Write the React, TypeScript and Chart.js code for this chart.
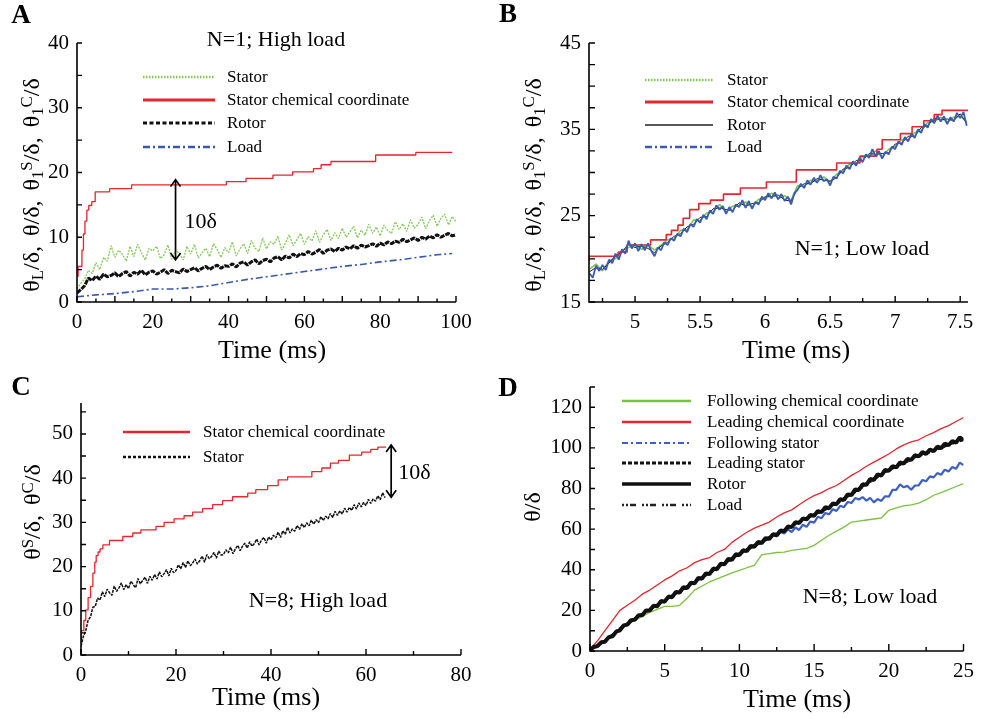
import React, { useEffect, useRef } from "react";
import { Chart, registerables } from "chart.js";
Chart.register(...registerables);

const SERIF = '"Liberation Serif", "Times New Roman", Times, serif';

// ---------------- Panel A : N=1, high load ----------------
const aTime = [0,1,2,3,4,5,6,7,8,9,10,11,12,13,14,15,16,17,18,19,20,21,22,23,24,25,26,27,28,29,30,31,32,33,34,35,36,37,38,39,40,41,42,43,44,45,46,47,48,49,50,51,52,53,54,55,56,57,58,59,60,61,62,63,64,65,66,67,68,69,70,71,72,73,74,75,76,77,78,79,80,81,82,83,84,85,86,87,88,89,90,91,92,93,94,95,96,97,98,99,100];
const aStator = [
  2.0,2.9,3.5,4.9,4.4,6.1,5.0,6.9,6.3,8.7,
  6.9,8.0,7.4,6.3,8.6,7.0,8.9,7.6,6.5,8.3,
  7.9,8.6,6.7,7.3,8.8,6.6,8.0,7.5,6.5,8.6,
  7.4,8.9,6.8,7.6,8.3,7.0,9.0,8.1,6.9,8.4,
  7.6,9.3,7.1,8.2,9.0,7.5,9.5,8.3,7.8,9.9,
  8.2,9.3,8.9,10.2,8.0,9.1,10.4,8.7,9.6,10.6,
  8.9,10.1,9.4,11.0,9.2,10.4,11.2,9.5,10.7,9.8,
  11.4,10.0,10.8,11.7,9.9,11.1,10.3,12.0,10.6,11.6,
  10.2,11.9,11.0,10.6,12.4,11.2,12.1,10.9,12.7,11.4,
  12.0,13.1,11.3,12.6,13.4,11.7,12.9,13.6,11.9,13.2,
  12.4];
const aRotor = [
  1.4,1.9,2.5,3.7,3.3,4.0,3.5,4.3,3.9,4.1,
  4.5,3.9,4.4,4.7,4.0,4.6,4.3,4.9,4.2,4.6,
  4.8,4.3,4.6,5.0,4.4,4.9,4.7,4.5,5.1,4.7,
  5.0,5.3,4.8,5.2,5.5,5.0,5.4,5.7,5.2,5.6,
  5.5,5.9,5.4,6.0,6.2,5.7,6.2,6.5,5.9,6.4,
  6.6,6.2,6.8,7.0,6.5,7.1,6.8,7.4,7.0,7.5,
  7.3,7.8,7.4,7.7,8.1,7.5,8.0,8.2,7.8,8.3,
  8.0,8.5,8.2,8.7,8.3,8.8,8.5,8.7,9.0,8.6,
  9.1,8.8,9.3,9.0,9.4,9.2,9.7,9.3,9.6,9.9,
  9.5,10.0,9.7,10.2,9.9,10.4,10.0,10.3,10.6,10.2,
  10.4];
const aLoadTime = [0,5,10,15,20,25,30,35,40,45,50,55,60,65,70,75,80,85,90,95,99];
const aLoad = [0.8,1.1,1.3,1.6,2.0,2.0,2.2,2.5,3.0,3.5,3.9,4.3,4.7,5.1,5.5,5.8,6.2,6.5,6.9,7.3,7.5];
const aChemTime = [0.3,1.3,1.7,2.1,2.6,3.1,3.9,4.8,8.6,14.4,39.4,44.6,51.7,56.9,62.4,64.4,67.0,78.8,89.4,96.4,99.0];
const aChem = [3.9,5.5,8.0,10.5,12.5,14.2,14.9,15.5,17.0,17.5,18.1,18.6,19.1,19.6,20.1,20.6,21.2,21.7,22.7,23.1,23.1];
const aXLabels = [0,20,40,60,80,100];
const aXMajor = [0,10,20,30,40,50,60,70,80,90,100];
const aXMinor = [5,15,25,35,45,55,65,75,85,95];
const aYLabels = [0,10,20,30,40];
const aYTicks = [0,5,10,15,20,25,30,35,40];

// ---------------- Panel B : N=1, low load ----------------
const bTimeFine = [4.65,4.675,4.7,4.725,4.75,4.775,4.8,4.825,4.85,4.875,4.9,4.925,4.95,4.975,5,5.025,5.05,5.075,5.1,5.125,5.15,5.175,5.2,5.225,5.25,5.275,5.3,5.325,5.35,5.375,5.4,5.425,5.45,5.475,5.5,5.525,5.55,5.575,5.6,5.625,5.65,5.675,5.7,5.725,5.75,5.775,5.8,5.825,5.85,5.875,5.9,5.925,5.95,5.975,6,6.025,6.05,6.075,6.1,6.125,6.15,6.175,6.2,6.225,6.25,6.275,6.3,6.325,6.35,6.375,6.4,6.425,6.45,6.475,6.5,6.525,6.55,6.575,6.6,6.625,6.65,6.675,6.7,6.725,6.75,6.775,6.8,6.825,6.85,6.875,6.9,6.925,6.95,6.975,7,7.025,7.05,7.075,7.1,7.125,7.15,7.175,7.2,7.225,7.25,7.275,7.3,7.325,7.35,7.375,7.4,7.425,7.45,7.475,7.5,7.525,7.55];
const bLoad = [
  18.3,17.8,19.2,18.6,19.3,18.7,19.9,19.5,20.6,19.9,
  21.1,20.6,22.1,21.2,21.8,20.9,21.7,21.0,21.8,20.9,
  20.3,21.3,21.0,21.9,21.6,22.4,22.1,22.9,22.6,23.5,
  23.1,24.0,23.7,24.6,24.2,25.1,24.6,25.6,25.2,26.2,
  25.7,26.1,25.2,26.0,25.4,26.3,26.0,26.8,25.9,26.7,
  25.8,26.6,26.3,27.2,26.8,27.6,27.0,27.7,26.9,27.5,
  26.7,27.2,26.3,27.6,28.0,28.7,28.2,29.1,28.6,29.4,
  28.8,29.7,29.0,29.2,28.5,29.5,29.3,30.2,29.9,30.8,
  30.4,31.3,30.8,31.7,31.2,32.1,31.7,32.7,31.9,32.5,
  31.6,32.4,32.1,33.0,32.7,33.6,33.2,34.1,33.6,34.5,
  34.0,35.0,34.6,35.6,35.2,36.2,35.7,36.6,35.9,36.5,
  35.6,36.4,35.9,36.9,36.3,37.0,35.4];
const bTime = [4.65,4.7,4.75,4.8,4.85,4.9,4.95,5,5.05,5.1,5.15,5.2,5.25,5.3,5.35,5.4,5.45,5.5,5.55,5.6,5.65,5.7,5.75,5.8,5.85,5.9,5.95,6,6.05,6.1,6.15,6.2,6.25,6.3,6.35,6.4,6.45,6.5,6.55,6.6,6.65,6.7,6.75,6.8,6.85,6.9,6.95,7,7.05,7.1,7.15,7.2,7.25,7.3,7.35,7.4,7.45,7.5,7.55];
const bStator = [
  18.8,19.4,18.6,19.8,20.0,21.0,21.3,21.7,21.1,21.6,
  21.0,21.6,22.2,22.3,23.3,23.4,24.5,24.4,25.3,25.4,
  26.3,25.4,26.1,26.2,26.6,26.0,26.9,27.0,27.6,27.0,
  27.3,26.8,28.5,28.4,29.1,28.9,29.5,28.9,29.8,30.1,
  31.0,31.0,31.8,31.9,32.5,31.8,32.7,33.0,33.8,33.8,
  34.6,34.8,35.8,35.9,36.4,35.8,36.4,36.5,35.9];
const bRotor = [
  18.5,19.0,18.8,19.5,20.4,20.7,21.8,21.3,21.5,21.2,
  20.7,21.5,21.9,22.6,22.9,23.7,24.0,24.8,24.9,25.8,
  25.9,25.7,25.6,26.5,26.1,26.4,26.5,27.2,27.2,27.4,
  26.8,26.7,28.1,28.7,28.7,29.3,29.1,29.0,29.4,30.4,
  30.6,31.4,31.4,32.2,32.1,32.2,32.3,33.3,33.4,34.2,
  34.2,35.2,35.4,36.3,36.1,36.2,36.0,36.8,35.7];
const bChemTime = [4.646,4.87,4.94,5.12,5.24,5.28,5.33,5.37,5.42,5.49,5.58,5.68,5.81,6.01,6.24,6.55,6.73,6.86,6.9,7.04,7.13,7.22,7.3,7.36,7.38,7.56];
const bChem = [19.7,20.3,20.8,21.6,22.2,22.8,23.3,23.9,24.7,25.7,26.4,26.8,27.5,28.2,28.9,30.3,31.1,31.9,32.7,33.8,34.5,35.3,36.0,36.7,37.2,37.2];
const bXLabels = [5,5.5,6,6.5,7,7.5];
const bXMajor = [5,5.5,6,6.5,7,7.5];
const bXMinor = [4.75,5.25,5.75,6.25,6.75,7.25];
const bYLabels = [15,25,35,45];
const bYTicks = [15,17.5,20,22.5,25,27.5,30,32.5,35,37.5,40,42.5,45];

// ---------------- Panel C : N=8, high load ----------------
const cTime = [0,0.5,1,1.5,2,2.5,3,3.5,4,4.5,5,5.5,6,6.5,7,7.5,8,8.5,9,9.5,10,10.5,11,11.5,12,12.5,13,13.5,14,14.5,15,15.5,16,16.5,17,17.5,18,18.5,19,19.5,20,20.5,21,21.5,22,22.5,23,23.5,24,24.5,25,25.5,26,26.5,27,27.5,28,28.5,29,29.5,30,30.5,31,31.5,32,32.5,33,33.5,34,34.5,35,35.5,36,36.5,37,37.5,38,38.5,39,39.5,40,40.5,41,41.5,42,42.5,43,43.5,44,44.5,45,45.5,46,46.5,47,47.5,48,48.5,49,49.5,50,50.5,51,51.5,52,52.5,53,53.5,54,54.5,55,55.5,56,56.5,57,57.5,58,58.5,59,59.5,60,60.5,61,61.5,62,62.5,63,63.5,64];
const cStator = [
  2.0,4.2,5.5,7.9,8.6,10.8,11.0,12.9,12.4,14.3,
  13.2,14.9,14.1,13.5,15.6,14.4,15.2,16.3,14.8,15.9,
  15.0,16.7,15.9,15.2,17.3,16.1,16.9,17.6,16.2,17.8,
  16.9,18.2,17.2,18.8,17.7,18.4,19.3,17.9,19.6,18.6,
  19.1,20.4,19.5,20.9,19.8,21.3,20.2,20.8,21.7,20.6,
  21.3,22.4,21.0,22.7,21.8,22.3,23.2,21.9,23.5,22.6,
  22.7,23.8,23.1,24.4,22.9,24.0,24.8,23.6,24.6,25.3,
  24.2,25.6,24.6,25.2,26.2,24.9,26.0,26.6,25.3,26.7,
  26.0,27.1,26.5,27.8,26.6,28.1,27.3,28.9,27.6,28.5,
  28.0,29.3,28.4,29.7,28.8,29.9,29.2,30.5,29.6,30.6,
  29.9,31.3,30.4,31.4,30.8,32.0,31.1,32.5,31.6,32.6,
  31.9,33.2,32.3,33.4,32.7,34.0,33.0,34.4,33.5,34.5,
  33.8,35.2,34.3,35.3,34.8,36.0,35.1,36.7,35.6];
const cChemTime = [0.1,0.6,1.0,1.5,2.0,2.5,2.9,3.2,3.6,4.0,4.6,6.0,8.8,10.9,12.6,15.8,17.5,19.6,21.7,23.5,25.6,27.7,29.8,31.9,35.1,36.8,39.3,41.5,43.5,48.6,50.7,52.5,54.2,56.5,59.1,61.0,62.5,63.5,64.2];
const cChem = [3.4,5.5,7.8,10.2,13.0,15.5,18.5,21.0,22.5,23.3,24.0,24.9,25.9,26.8,27.6,28.3,29.1,30.0,30.8,31.5,32.3,33.1,34.0,34.9,35.8,36.6,37.4,38.3,39.6,40.3,41.5,42.3,43.4,44.0,45.2,45.9,46.5,47.0,47.0];
const cXLabels = [0,20,40,60,80];
const cXMajor = [0,20,40,60,80];
const cXMinor = [10,30,50,70];
const cYLabels = [0,10,20,30,40,50];
const cYTicks = [0,5,10,15,20,25,30,35,40,45,50,55];

// ---------------- Panel D : N=8, low load ----------------
const dTimeHalf = [0,0.5,1,1.5,2,2.5,3,3.5,4,4.5,5,5.5,6,6.5,7,7.5,8,8.5,9,9.5,10,10.5,11,11.5,12,12.5,13,13.5,14,14.5,15,15.5,16,16.5,17,17.5,18,18.5,19,19.5,20,20.5,21,21.5,22,22.5,23,23.5,24,24.5,25];
const dFollowChem = [
  0.5,3.0,5.5,8.0,10.5,13.0,15.0,17.0,19.0,20.5,
  22.0,22.0,22.5,26.0,30.0,32.0,34.0,35.5,37.0,38.5,
  39.7,41.0,42.2,47.5,48.0,48.5,48.7,49.5,50.0,50.5,
  52.0,54.5,57.0,59.0,61.0,63.5,64.0,64.5,65.0,65.5,
  69.3,70.5,71.5,72.0,72.8,74.5,76.7,78.0,79.5,81.0,
  82.4];
const dLeadChem = [
  1.0,5.0,10.0,15.0,20.0,22.5,25.0,28.0,30.0,32.5,
  35.0,37.0,39.5,41.0,43.5,45.0,46.0,48.5,50.0,53.5,
  56.0,58.5,60.5,62.0,63.5,66.0,68.0,69.5,72.0,74.5,
  76.5,78.0,80.0,81.5,84.0,86.5,88.5,91.0,93.0,95.0,
  97.0,99.5,101.5,103.0,104.0,106.0,107.5,109.5,111.0,113.0,
  115.0];
const dTimeQ = [0,0.25,0.5,0.75,1,1.25,1.5,1.75,2,2.25,2.5,2.75,3,3.25,3.5,3.75,4,4.25,4.5,4.75,5,5.25,5.5,5.75,6,6.25,6.5,6.75,7,7.25,7.5,7.75,8,8.25,8.5,8.75,9,9.25,9.5,9.75,10,10.25,10.5,10.75,11,11.25,11.5,11.75,12,12.25,12.5,12.75,13,13.25,13.5,13.75,14,14.25,14.5,14.75,15,15.25,15.5,15.75,16,16.25,16.5,16.75,17,17.25,17.5,17.75,18,18.25,18.5,18.75,19,19.25,19.5,19.75,20,20.25,20.5,20.75,21,21.25,21.5,21.75,22,22.25,22.5,22.75,23,23.25,23.5,23.75,24,24.25,24.5,24.75,25];
const dRotor = [
  0.5,2.0,2.4,4.3,4.6,6.8,7.2,9.5,10.2,12.6,
  13.0,15.2,15.4,17.6,17.6,20.0,19.9,22.3,22.0,24.6,
  24.3,26.8,26.5,29.1,28.8,31.4,31.0,33.6,33.3,36.0,
  35.6,38.2,37.9,40.6,40.3,43.0,42.7,45.3,44.9,47.6,
  47.3,49.6,49.2,51.7,51.3,53.7,53.2,55.6,55.2,57.5,
  57.0,59.4,59.0,61.3,61.0,63.4,63.0,65.3,64.8,67.0,
  66.6,68.9,68.4,70.8,70.3,72.7,72.3,74.8,74.4,77.1,
  76.8,79.6,79.3,82.1,81.8,84.7,84.2,87.0,86.4,89.2,
  88.7,91.0,90.4,92.8,92.3,94.6,94.1,96.4,95.8,97.9,
  97.1,99.2,98.4,100.6,99.9,102.1,101.3,103.4,102.6,105.2,
  103.8];
const dFollowStatorTime = [0,1,2,3,4,5,6,7,8,9,10,11,12,12.25,12.5,12.75,13,13.25,13.5,13.75,14,14.25,14.5,14.75,15,15.25,15.5,15.75,16,16.25,16.5,16.75,17,17.25,17.5,17.75,18,18.25,18.5,18.75,19,19.25,19.5,19.75,20,20.25,20.5,20.75,21,21.25,21.5,21.75,22,22.25,22.5,22.75,23,23.25,23.5,23.75,24,24.25,24.5,24.75,25];
const dFollowStator = [
  0.5,5.0,10.8,15.8,20.3,24.8,29.3,33.8,38.3,43.2,47.6,51.6,55.4,
  57.2,56.5,58.6,57.9,59.9,58.6,60.8,59.6,62.2,61.1,
  63.8,63.2,66.1,65.4,68.0,67.3,69.8,69.0,71.5,70.8,
  73.4,72.9,75.3,74.6,75.8,74.0,75.4,73.2,74.8,73.9,
  76.2,76.0,79.4,79.3,82.0,80.6,81.3,79.4,81.5,81.6,
  84.2,83.6,86.0,85.5,87.6,86.8,89.3,88.4,90.6,89.7,
  92.8,91.5];
const dTimeInt = [0,1,2,3,4,5,6,7,8,9,10,11,12,13,14,15,16,17,18,19,20,21,22,23,24,25];
const dLeadStator = [0.5,5.2,11.2,16.1,20.7,25.2,29.7,34.2,38.7,43.6,48.2,52.2,56.2,59.7,63.7,67.2,70.7,74.7,79.7,84.7,89.2,92.7,96.2,98.7,101.7,104.2];
const dLoad = [0.4,4.9,10.9,15.9,20.4,24.9,29.4,33.9,38.4,43.4,47.9,51.9,55.9,59.4,63.4,66.9,70.4,74.4,79.4,84.4,88.9,92.4,95.9,98.4,101.4,103.9];
const dXLabels = [0,5,10,15,20,25];
const dXMajor = [0,5,10,15,20,25];
const dXMinor = [2.5,7.5,12.5,17.5,22.5];
const dYLabels = [0,20,40,60,80,100,120];
const dYTicks = [0,10,20,30,40,50,60,70,80,90,100,110,120,130];

// ---------------- helpers ----------------
const RED = "#e4262e";
const GREEN = "#84c858";
const BLUE = "#3a59ad";

function xy(t: number[], v: number[]) {
  return t.map((x, i) => ({ x, y: v[i] }));
}

type Decor = {
  xMajor: number[]; xMinor: number[]; yTicks: number[];
  majorLen: number; minorLen: number; yLen: number;
  legend: { x0: number; x1: number; tx: number; rows: number[]; font: string };
  arrow?: { x: number; y1: number; y2: number; label: string; dx: number; font: string };
};

function decorPlugin(d: Decor) {
  return {
    id: "decor",
    afterDatasetsDraw(chart: any) {
      const { ctx, chartArea: ca } = chart;
      const xs = chart.scales.x;
      const ys = chart.scales.y;
      ctx.save();
      ctx.setLineDash([]);
      ctx.strokeStyle = "#000";
      ctx.lineWidth = 1.6;
      ctx.beginPath();
      ctx.moveTo(ca.left, ca.top);
      ctx.lineTo(ca.left, ca.bottom);
      ctx.lineTo(ca.right, ca.bottom);
      ctx.stroke();
      ctx.lineWidth = 1.4;
      ctx.beginPath();
      for (const v of d.xMajor) {
        const p = xs.getPixelForValue(v);
        ctx.moveTo(p, ca.bottom);
        ctx.lineTo(p, ca.bottom - d.majorLen);
      }
      for (const v of d.xMinor) {
        const p = xs.getPixelForValue(v);
        ctx.moveTo(p, ca.bottom);
        ctx.lineTo(p, ca.bottom - d.minorLen);
      }
      for (const v of d.yTicks) {
        const p = ys.getPixelForValue(v);
        ctx.moveTo(ca.left, p);
        ctx.lineTo(ca.left + d.yLen, p);
      }
      ctx.stroke();

      const L = d.legend;
      chart.data.datasets.forEach((ds: any, i: number) => {
        const y = L.rows[i];
        if (y === undefined) return;
        ctx.beginPath();
        ctx.setLineDash(ds.lgDash || []);
        ctx.strokeStyle = ds.lgColor || ds.borderColor;
        ctx.lineWidth = ds.lgWidth || 2;
        ctx.moveTo(L.x0, y);
        ctx.lineTo(L.x1, y);
        ctx.stroke();
        ctx.setLineDash([]);
        ctx.fillStyle = "#000";
        ctx.font = L.font;
        ctx.textBaseline = "middle";
        ctx.textAlign = "left";
        ctx.fillText(ds.label, L.tx, y + 1);
      });

      if (d.arrow) {
        const a = d.arrow;
        const px = xs.getPixelForValue(a.x);
        const p1 = ys.getPixelForValue(a.y1);
        const p2 = ys.getPixelForValue(a.y2);
        ctx.setLineDash([]);
        ctx.strokeStyle = "#000";
        ctx.lineWidth = 1.7;
        ctx.beginPath();
        ctx.moveTo(px, p1);
        ctx.lineTo(px, p2);
        ctx.moveTo(px - 5, p1 + 7);
        ctx.lineTo(px, p1);
        ctx.lineTo(px + 5, p1 + 7);
        ctx.moveTo(px - 5, p2 - 7);
        ctx.lineTo(px, p2);
        ctx.lineTo(px + 5, p2 - 7);
        ctx.stroke();
        ctx.fillStyle = "#000";
        ctx.font = a.font;
        ctx.textBaseline = "middle";
        ctx.textAlign = "left";
        ctx.fillText(a.label, px + a.dx, (p1 + p2) / 2 + 2);
      }
      ctx.restore();
    },
  };
}

type PanelSpec = {
  datasets: any[];
  xMin: number; xMax: number; yMin: number; yMax: number;
  xLabels: number[]; yLabels: number[];
  decor: Decor;
  w: number; h: number;
  chartLeft: number; chartTop: number; chartRight: number; chartBottom: number;
};

const X_H = 40;

function makeConfig(p: PanelSpec): any {
  return {
    type: "line",
    data: { datasets: p.datasets },
    options: {
      animation: false,
      responsive: false,
      devicePixelRatio: 1,
      events: [],
      layout: {
        padding: {
          left: 0,
          top: p.chartTop,
          right: p.w - p.chartRight,
          bottom: p.h - p.chartBottom - X_H,
        },
      },
      elements: {
        point: { radius: 0 },
        line: { tension: 0, borderJoinStyle: "bevel", fill: false },
      },
      plugins: { legend: { display: false }, tooltip: { enabled: false }, title: { display: false } },
      scales: {
        x: {
          type: "linear",
          min: p.xMin,
          max: p.xMax,
          grid: { display: false, drawTicks: false },
          border: { display: false },
          afterBuildTicks: (s: any) => { s.ticks = p.xLabels.map((v) => ({ value: v })); },
          afterFit: (s: any) => { s.height = X_H; },
          ticks: {
            color: "#000",
            font: { family: SERIF, size: 21 },
            padding: 8,
            maxRotation: 0,
            autoSkip: false,
            callback: (v: any) => String(v),
          },
        },
        y: {
          type: "linear",
          min: p.yMin,
          max: p.yMax,
          grid: { display: false, drawTicks: false },
          border: { display: false },
          afterBuildTicks: (s: any) => { s.ticks = p.yLabels.map((v) => ({ value: v })); },
          afterFit: (s: any) => { s.width = p.chartLeft; },
          ticks: {
            color: "#000",
            font: { family: SERIF, size: 21 },
            padding: 8,
            autoSkip: false,
            callback: (v: any) => String(v),
          },
        },
      },
    },
    plugins: [decorPlugin(p.decor)],
  };
}

const LEG_FONT = `17px ${SERIF}`;

const panelA: PanelSpec = {
  w: 490, h: 362, chartLeft: 77, chartTop: 43, chartRight: 456, chartBottom: 302,
  xMin: 0, xMax: 100, yMin: 0, yMax: 40, xLabels: aXLabels, yLabels: aYLabels,
  datasets: [
    { label: "Stator", data: xy(aTime, aStator), borderColor: GREEN, borderWidth: 1.3, borderDash: [2, 1.2], order: 2, lgWidth: 2.5, lgDash: [1.5, 1.5] },
    { label: "Stator chemical coordinate", data: xy(aChemTime, aChem), borderColor: RED, borderWidth: 1.3, stepped: "after", order: 0, lgWidth: 3 },
    { label: "Rotor", data: xy(aTime, aRotor), borderColor: "#111", borderWidth: 3, borderDash: [5, 1], order: 1, lgWidth: 3, lgDash: [4, 2.5] },
    { label: "Load", data: xy(aLoadTime, aLoad), borderColor: BLUE, borderWidth: 1.6, borderDash: [7, 3, 2, 3], order: 3, lgWidth: 2.5, lgDash: [7, 3, 2, 3] },
  ],
  decor: {
    xMajor: aXMajor, xMinor: aXMinor, yTicks: aYTicks, majorLen: 6, minorLen: 3.5, yLen: 5,
    legend: { x0: 143, x1: 215, tx: 227, rows: [77, 100, 123, 147], font: LEG_FONT },
    arrow: { x: 26, y1: 18.9, y2: 6.5, label: "10δ", dx: 9, font: `22px ${SERIF}` },
  },
};

const panelB: PanelSpec = {
  w: 492, h: 362, chartLeft: 99, chartTop: 43, chartRight: 478, chartBottom: 302,
  xMin: 4.646, xMax: 7.56, yMin: 15, yMax: 45, xLabels: bXLabels, yLabels: bYLabels,
  datasets: [
    { label: "Stator", data: xy(bTime, bStator), borderColor: "#7cc84a", borderWidth: 1.6, order: 3, lgWidth: 2.5, lgDash: [1.5, 1.5] },
    { label: "Stator chemical coordinate", data: xy(bChemTime, bChem), borderColor: RED, borderWidth: 1.6, stepped: "after", order: 1, lgWidth: 3 },
    { label: "Rotor", data: xy(bTime, bRotor), borderColor: "#222", borderWidth: 1, order: 2, lgWidth: 1.5 },
    { label: "Load", data: xy(bTimeFine, bLoad), borderColor: "#3b5cb2", borderWidth: 1.8, order: 0, lgWidth: 2.5, lgDash: [7, 3, 2, 3] },
  ],
  decor: {
    xMajor: bXMajor, xMinor: bXMinor, yTicks: bYTicks, majorLen: 6, minorLen: 4, yLen: 6,
    legend: { x0: 155, x1: 223, tx: 237, rows: [80, 102, 125, 147], font: LEG_FONT },
  },
};

const panelC: PanelSpec = {
  w: 490, h: 357, chartLeft: 81, chartTop: 41, chartRight: 461, chartBottom: 293,
  xMin: 0, xMax: 80, yMin: 0, yMax: 57, xLabels: cXLabels, yLabels: cYLabels,
  datasets: [
    { label: "Stator chemical coordinate", data: xy(cChemTime, cChem), borderColor: RED, borderWidth: 1.3, stepped: "after", order: 1, lgWidth: 2.5 },
    { label: "Stator", data: xy(cTime, cStator), borderColor: "#111", borderWidth: 1.5, borderDash: [3, 1], order: 0, lgWidth: 2.5, lgDash: [3, 2] },
  ],
  decor: {
    xMajor: cXMajor, xMinor: cXMinor, yTicks: cYTicks, majorLen: 6, minorLen: 4, yLen: 5,
    legend: { x0: 123, x1: 190, tx: 203, rows: [70, 95], font: LEG_FONT },
    arrow: { x: 65.3, y1: 47.5, y2: 35.7, label: "10δ", dx: 7, font: `22px ${SERIF}` },
  },
};

const panelD: PanelSpec = {
  w: 492, h: 357, chartLeft: 100, chartTop: 25, chartRight: 478, chartBottom: 289,
  xMin: 0, xMax: 25, yMin: 0, yMax: 130, xLabels: dXLabels, yLabels: dYLabels,
  datasets: [
    { label: "Following chemical coordinate", data: xy(dTimeHalf, dFollowChem), borderColor: "#7cc142", borderWidth: 1.3, order: 5, lgWidth: 2.5 },
    { label: "Leading chemical coordinate", data: xy(dTimeHalf, dLeadChem), borderColor: RED, borderWidth: 1.3, order: 4, lgWidth: 2.5 },
    { label: "Following stator", data: xy(dFollowStatorTime, dFollowStator), borderColor: "#3d5fc4", borderWidth: 2.2, order: 3, lgWidth: 2, lgDash: [6, 3, 2, 3] },
    { label: "Leading stator", data: xy(dTimeInt, dLeadStator), borderColor: "#111", borderWidth: 2, borderDash: [4, 2], order: 1, lgWidth: 3, lgDash: [4, 2] },
    { label: "Rotor", data: xy(dTimeQ, dRotor), borderColor: "#111", borderWidth: 4, order: 0, lgWidth: 3.5 },
    { label: "Load", data: xy(dTimeInt, dLoad), borderColor: "#222", borderWidth: 2, borderDash: [2, 2, 2, 2, 6, 5], order: 2, lgWidth: 2.5, lgDash: [2, 2, 2, 2, 6, 6] },
  ],
  decor: {
    xMajor: dXMajor, xMinor: dXMinor, yTicks: dYTicks, majorLen: 7, minorLen: 4, yLen: 5,
    legend: { x0: 132, x1: 201, tx: 217, rows: [39, 60, 81, 101, 122, 143], font: LEG_FONT },
  },
};

function ChartPanel({ spec, left, top }: { spec: PanelSpec; left: number; top: number }) {
  const ref = useRef<HTMLCanvasElement>(null);
  useEffect(() => {
    const chart = new Chart(ref.current as HTMLCanvasElement, makeConfig(spec));
    return () => chart.destroy();
  }, [spec]);
  return (
    <canvas
      ref={ref}
      width={spec.w}
      height={spec.h}
      style={{ position: "absolute", left, top, width: spec.w, height: spec.h }}
    />
  );
}

function Txt({ x, y, size, bold, children, rotate }: any) {
  return (
    <div
      style={{
        position: "absolute",
        left: x,
        top: y,
        transform: `translate(-50%, -50%)${rotate ? " rotate(-90deg)" : ""}`,
        fontFamily: SERIF,
        fontSize: size,
        fontWeight: bold ? 700 : 400,
        lineHeight: 1,
        whiteSpace: "nowrap",
        color: "#000",
        wordSpacing: rotate ? 4 : 0,
      }}
    >
      {children}
    </div>
  );
}

const sub = { fontSize: "70%", verticalAlign: "-0.25em" } as const;
const sup = { fontSize: "70%", verticalAlign: "0.45em" } as const;

export default function App() {
  return (
    <div style={{ position: "absolute", left: 0, top: 0, width: 982, height: 719, background: "#fff", overflow: "hidden" }}>
      <ChartPanel spec={panelA} left={0} top={0} />
      <ChartPanel spec={panelB} left={490} top={0} />
      <ChartPanel spec={panelC} left={0} top={362} />
      <ChartPanel spec={panelD} left={490} top={362} />

      <Txt x={21} y={14} size={27} bold>A</Txt>
      <Txt x={508} y={13} size={27} bold>B</Txt>
      <Txt x={21} y={386} size={27} bold>C</Txt>
      <Txt x={508} y={387} size={27} bold>D</Txt>

      <Txt x={276} y={39} size={22}>N=1; High load</Txt>
      <Txt x={862} y={248} size={22}>N=1; Low load</Txt>
      <Txt x={318} y={600} size={22}>N=8; High load</Txt>
      <Txt x={870} y={596} size={22}>N=8; Low load</Txt>

      <Txt x={272} y={350} size={26}>Time (ms)</Txt>
      <Txt x={796} y={350} size={26}>Time (ms)</Txt>
      <Txt x={266} y={697} size={26}>Time (ms)</Txt>
      <Txt x={797} y={699} size={26}>Time (ms)</Txt>

      <Txt x={33} y={185} size={24} rotate>
        θ<span style={sub}>L</span>/δ, θ/δ, θ<span style={sub}>1</span><span style={sup}>S</span>/δ, θ<span style={sub}>1</span><span style={sup}>C</span>/δ
      </Txt>
      <Txt x={535} y={185} size={24} rotate>
        θ<span style={sub}>L</span>/δ, θ/δ, θ<span style={sub}>1</span><span style={sup}>S</span>/δ, θ<span style={sub}>1</span><span style={sup}>C</span>/δ
      </Txt>
      <Txt x={32} y={512} size={24} rotate>
        θ<span style={sup}>S</span>/δ, θ<span style={sup}>C</span>/δ
      </Txt>
      <Txt x={532} y={507} size={24} rotate>
        θ/δ
      </Txt>
    </div>
  );
}
